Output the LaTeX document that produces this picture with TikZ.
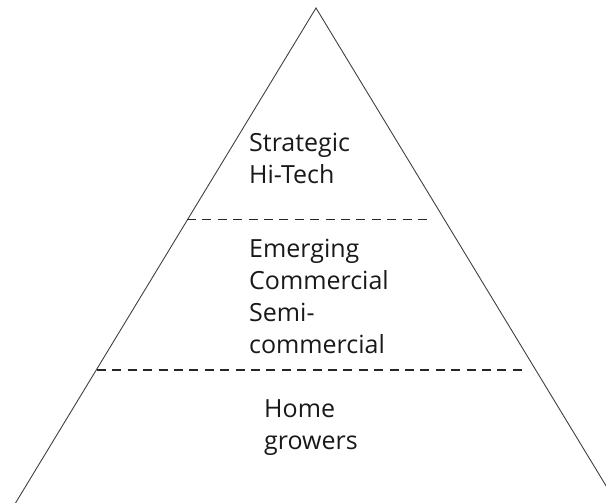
\documentclass[tikz,border=0pt]{standalone}
\usepackage{fontspec}
\setmainfont{Open Sans}
\begin{document}
\begin{tikzpicture}[x=1pt,y=-1pt,
  edge/.style={draw=black!75, line width=0.9pt},
  tier/.style={draw=black!85, line width=1.3pt, dash pattern=on 9pt off 6.4pt},
  label/.style={anchor=base west, align=left, inner sep=0pt, text=black!90,
    font=\fontsize{25pt}{32pt}\selectfont}]
  \useasboundingbox (0,0) rectangle (606,503);
  \begin{scope}
    \clip (0,0) rectangle (606,503);
    % outline of the pyramid (base lies below the frame)
    \coordinate (apex) at (316,8);
    \coordinate (bl) at (5.2,520);
    \coordinate (br) at (626.8,520);
    \draw[edge] (bl) -- (apex) -- (br);
  \end{scope}
  % tier dividers
  \coordinate (t1l) at (187,219.3);
  \coordinate (t1r) at (432,219.3);
  \coordinate (t2l) at (97,370);
  \coordinate (t2r) at (524,370);
  \draw[tier] (t1l) -- (t1r);
  \draw[tier] (t2l) -- (t2r);
  % tier labels (positioned by the baseline of their last line)
  \node[label] (top) at (249,183.3) {Strategic\\Hi-Tech};
  \node[label] (mid) at (249,353.3) {Emerging\\Commercial\\Semi-\\commercial};
  \node[label] (base) at (264,449.5) {Home\\growers};
\end{tikzpicture}
\end{document}
